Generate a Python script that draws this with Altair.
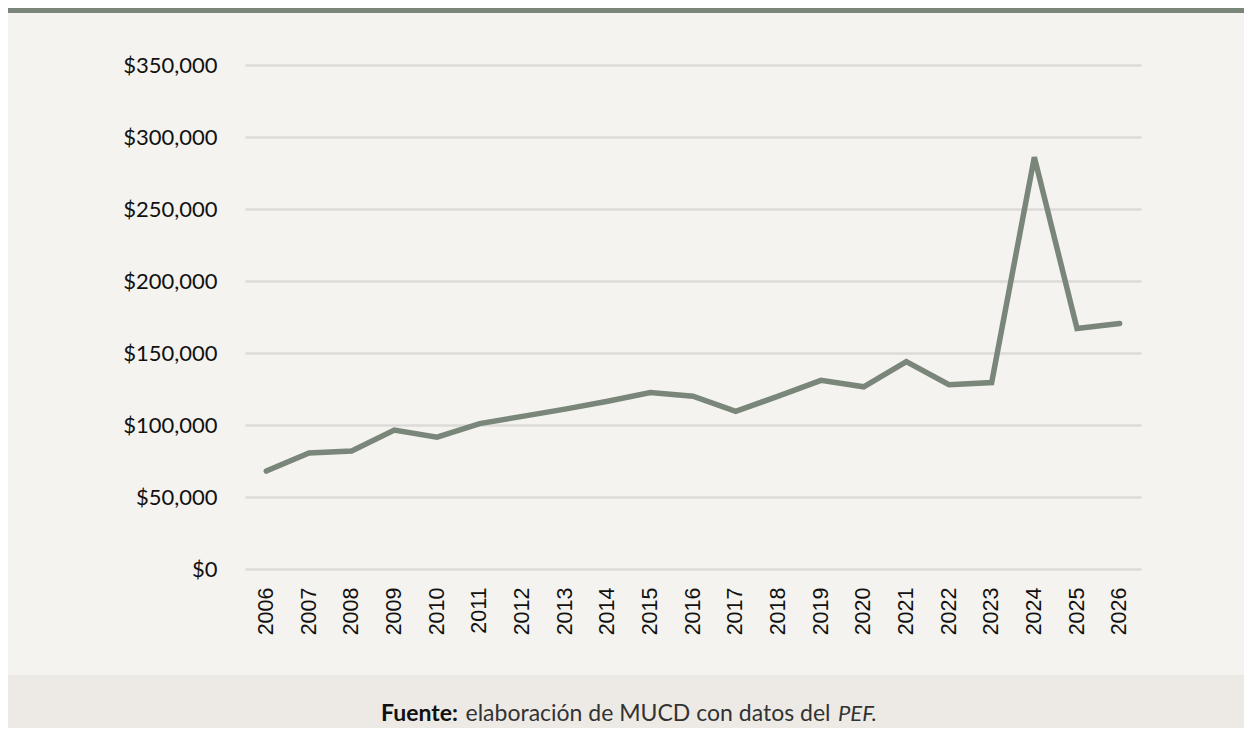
import altair as alt
import pandas as pd

years = ["2006", "2007", "2008", "2009", "2010", "2011", "2012", "2013", "2014", "2015",
         "2016", "2017", "2018", "2019", "2020", "2021", "2022", "2023", "2024", "2025", "2026"]
values = [68000, 80500, 82000, 96500, 91500, 101000, 106000, 111000, 116500, 122500,
          120000, 109500, 120000, 131000, 126500, 144000, 128000, 129500, 286000, 167000, 170500]
y_ticks = [0, 50000, 100000, 150000, 200000, 250000, 300000, 350000]

source_bold = "Fuente:"
source_text = "elaboración de MUCD con datos del"
source_italic = "PEF."

df = pd.DataFrame({"year": years, "value": values})
one = pd.DataFrame({"a": [0]})

LINE = "#7a867a"
BG = "#f4f3ef"
FOOT = "#edeae5"

W, H = 896, 504
PL, PT, PR, PB = 237, 57, 103, 159

top_bar = alt.Chart(one).mark_rect(color=LINE).encode(
    x=alt.value(-PL), x2=alt.value(W + PR), y=alt.value(-PT), y2=alt.value(-PT + 5)
)
footer = alt.Chart(one).mark_rect(color=FOOT).encode(
    x=alt.value(-PL), x2=alt.value(W + PR), y=alt.value(610), y2=alt.value(H + PB)
)

t1 = alt.Chart(one).mark_text(
    text=source_bold, font="Lato", fontWeight="bold", fontSize=23, align="right",
    baseline="alphabetic", color="#111111"
).encode(x=alt.value(213), y=alt.value(656))
t2 = alt.Chart(one).mark_text(
    text=source_text, font="Lato", fontSize=23, align="center",
    baseline="alphabetic", color="#333333"
).encode(x=alt.value(403), y=alt.value(656))
t3 = alt.Chart(one).mark_text(
    text=source_italic, font="Lato", fontStyle="italic", fontSize=22, align="left",
    baseline="alphabetic", color="#333333"
).encode(x=alt.value(593), y=alt.value(656))

line = alt.Chart(df).mark_line(color=LINE, strokeWidth=5.5, strokeCap="round", strokeJoin="miter").encode(
    x=alt.X("year:O", sort=years, scale=alt.Scale(type="point", padding=0.5),
            axis=alt.Axis(title=None, labelAngle=270, labelFont="Liberation Sans", labelFontSize=21.5,
                          labelColor="#111111", domain=False, ticks=False, tickSize=0,
                          labelPadding=18, grid=False)),
    y=alt.Y("value:Q", scale=alt.Scale(domain=[0, 350000], nice=False),
            axis=alt.Axis(title=None, values=y_ticks, format="$,.0f", labelFont="Lato",
                          labelFontSize=22, labelColor="#111111", domain=False, ticks=False,
                          tickSize=0, labelPadding=28, grid=True, gridColor="#dcdbd8",
                          gridWidth=2.5)),
)

chart = alt.layer(top_bar, footer, line, t1, t2, t3).properties(
    width=W, height=H,
    autosize=alt.AutoSizeParams(type="none"),
    padding={"left": PL, "top": PT, "right": PR, "bottom": PB},
    background=BG,
).configure_view(stroke=None)

chart.save("out.html", embed_options={"renderer": "svg", "actions": False})
